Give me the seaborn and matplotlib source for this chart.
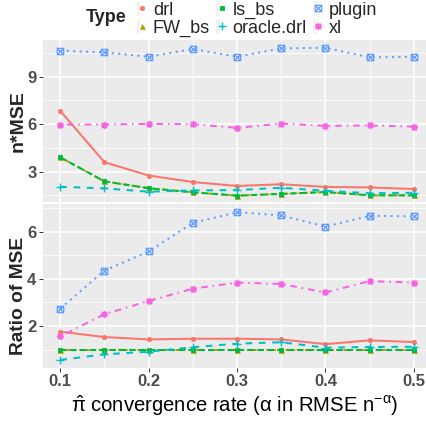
import numpy as np
import pandas as pd
import seaborn as sns
import matplotlib
matplotlib.use("Agg")
import matplotlib.pyplot as plt
from matplotlib.path import Path
from matplotlib.lines import Line2D
from matplotlib.patches import Rectangle
from matplotlib.legend_handler import HandlerTuple

# convergence rate alpha
rate = [0.1, 0.15, 0.2, 0.25, 0.3, 0.35, 0.4, 0.45, 0.5]
types = ["drl", "FW_bs", "ls_bs", "oracle.drl", "plugin", "xl"]

# n*MSE (top panel)
nmse_drl = [6.84, 3.60, 2.76, 2.35, 2.10, 2.21, 2.04, 2.01, 1.91]
nmse_fw_bs = [3.91, 2.39, 1.96, 1.70, 1.49, 1.60, 1.72, 1.51, 1.51]
nmse_ls_bs = [3.91, 2.39, 1.96, 1.70, 1.49, 1.60, 1.72, 1.51, 1.51]
nmse_oracle = [2.05, 1.95, 1.74, 1.82, 1.84, 1.99, 1.80, 1.64, 1.67]
nmse_plugin = [10.64, 10.54, 10.26, 10.75, 10.26, 10.79, 10.83, 10.22, 10.26]
nmse_xl = [5.98, 5.98, 6.02, 6.00, 5.77, 6.04, 5.90, 5.92, 5.85]

# ratio of MSE (bottom panel)
ratio_drl = [1.76, 1.53, 1.43, 1.46, 1.46, 1.43, 1.23, 1.39, 1.32]
ratio_fw_bs = [1.0, 1.0, 1.0, 1.0, 1.0, 1.0, 1.0, 1.0, 1.0]
ratio_ls_bs = [1.0, 1.0, 1.0, 1.0, 1.0, 1.0, 1.0, 1.0, 1.0]
ratio_oracle = [0.56, 0.80, 0.91, 1.10, 1.25, 1.31, 1.08, 1.11, 1.12]
ratio_plugin = [2.74, 4.35, 5.16, 6.37, 6.82, 6.69, 6.21, 6.67, 6.65]
ratio_xl = [1.56, 2.50, 3.06, 3.58, 3.84, 3.78, 3.42, 3.90, 3.84]

nmse = dict(zip(types, [nmse_drl, nmse_fw_bs, nmse_ls_bs, nmse_oracle, nmse_plugin, nmse_xl]))
ratio = dict(zip(types, [ratio_drl, ratio_fw_bs, ratio_ls_bs, ratio_oracle, ratio_plugin, ratio_xl]))

rows = []
for panel, vals in [("nmse", nmse), ("ratio", ratio)]:
    for t in types:
        for r, v in zip(rate, vals[t]):
            rows.append({"rate": r, "Type": t, "value": v, "panel": panel})
df = pd.DataFrame(rows)

colors = ["#F8766D", "#B79F00", "#00BA38", "#00BFC4", "#619CFF", "#F564E3"]
palette = dict(zip(types, colors))
dashes = {"drl": "", "FW_bs": (1.6, 1.6), "ls_bs": (3.3, 1.6),
          "oracle.drl": (3.3, 3.3), "plugin": (1, 2.2), "xl": (0.8, 2.4, 3.3, 2.4)}

# square with a cross (ggplot shape 7)
sqx = Path([(-1, -1), (1, -1), (1, 1), (-1, 1), (-1, -1), (-1, -1), (1, 1), (-1, 1), (1, -1)],
           [Path.MOVETO, Path.LINETO, Path.LINETO, Path.LINETO, Path.CLOSEPOLY,
            Path.MOVETO, Path.LINETO, Path.MOVETO, Path.LINETO])
marker_style = {
    "drl": dict(marker="o", ms=3.2, mew=0.5, fill=True),
    "FW_bs": dict(marker="^", ms=3.6, mew=0.5, fill=True),
    "ls_bs": dict(marker="s", ms=3.4, mew=0.6, fill=True),
    "oracle.drl": dict(marker="+", ms=6, mew=1.0, fill=False),
    "plugin": dict(marker=sqx, ms=4.6, mew=0.9, fill=False),
    "xl": dict(marker=(8, 2, 0), ms=5.2, mew=0.9, fill=False),
}

sns.set_theme(style="darkgrid")
plt.rcParams["font.family"] = ["Liberation Sans", "DejaVu Sans"]
plt.rcParams["mathtext.fontset"] = "custom"
plt.rcParams["mathtext.rm"] = "Liberation Sans"
plt.rcParams["mathtext.it"] = "Liberation Sans:italic"
plt.rcParams["mathtext.bf"] = "Liberation Sans:bold"

fig = plt.figure(figsize=(4.27, 4.23), dpi=100)
ax1 = fig.add_axes([0.1007, 0.5225, 0.8993, 0.383])
ax2 = fig.add_axes([0.1007, 0.1312, 0.8993, 0.3865])

for ax, panel in [(ax1, "nmse"), (ax2, "ratio")]:
    sns.lineplot(data=df[df["panel"] == panel], x="rate", y="value",
                 hue="Type", hue_order=types, palette=palette,
                 style="Type", style_order=types, dashes=dashes, markers=False,
                 errorbar=None, linewidth=1.45, legend=False, ax=ax)
    for line, t in zip(ax.get_lines(), types):
        st = marker_style[t]
        c = line.get_color()
        line.set_marker(st["marker"])
        line.set_markersize(st["ms"])
        line.set_markeredgewidth(st["mew"])
        line.set_markeredgecolor(c)
        line.set_markerfacecolor(c if st["fill"] else "none")

    ax.set_facecolor("#EBEBEB")
    for s in ax.spines.values():
        s.set_visible(False)
    ax.set_xlim(0.0804, 0.515)
    ax.set_xticks([0.1, 0.2, 0.3, 0.4, 0.5])
    ax.set_xticks([0.15, 0.25, 0.35, 0.45], minor=True)
    ax.grid(which="major", color="white", linewidth=1.1)
    ax.grid(which="minor", color="white", linewidth=0.55)
    ax.set_axisbelow(True)
    ax.tick_params(which="major", length=2.75, width=0.7, color="#333333",
                   labelsize=12, labelcolor="#4D4D4D", pad=2,
                   left=True, bottom=True)
    ax.tick_params(which="minor", length=0)
    ax.set_xlabel("")

ax1.set_ylim(1.09, 11.32)
ax1.set_yticks([3, 6, 9])
ax1.set_yticks([1.5, 4.5, 7.5, 10.5], minor=True)
ax1.tick_params(axis="x", which="major", length=0, labelbottom=False)
ax1.set_ylabel("n*MSE", fontsize=14, fontweight="bold", va="center")
ax1.yaxis.set_label_coords(-0.064, 0.5)

ax2.set_ylim(0.24, 7.17)
ax2.set_yticks([2, 4, 6])
ax2.set_yticks([1, 3, 5, 7], minor=True)
ax2.set_xticklabels(["0.1", "0.2", "0.3", "0.4", "0.5"])
ax2.set_ylabel("Ratio of MSE", fontsize=13.8, fontweight="bold", va="center")
ax2.yaxis.set_label_coords(-0.064, 0.437)
ax2.set_xlabel(r"$\hat{\mathrm{\pi}}$ convergence rate ($\mathrm{\alpha}$ in RMSE n$^{-\mathrm{\alpha}}$)",
               fontsize=14.6, labelpad=3, color="black")

for ax in (ax1, ax2):
    for lab in ax.get_xticklabels() + ax.get_yticklabels():
        lab.set_fontweight("bold")

# legend on top, ggplot-like
handles = []
for t in types:
    st = marker_style[t]
    c = palette[t]
    key = Rectangle((0, 0), 1, 1, facecolor="#F2F2F2", edgecolor="none")
    pt = Line2D([], [], linestyle="none", marker=st["marker"], markersize=st["ms"],
                markeredgewidth=st["mew"], markeredgecolor=c,
                markerfacecolor=c if st["fill"] else "none")
    handles.append((key, pt))
fig.legend(handles, types, ncol=3, loc="upper left",
           bbox_to_anchor=(136.5 / 427, 1 - 1.5 / 423), frameon=False,
           handler_map={tuple: HandlerTuple(ndivide=None, pad=0)},
           handlelength=0.4, handleheight=0.9, handletextpad=0.5,
           columnspacing=0.35, labelspacing=0.0, fontsize=13,
           borderpad=0, borderaxespad=0)
fig.text(86 / 427, 1 - 18 / 423, "Type", fontsize=13, fontweight="bold",
         ha="left", va="center")

fig.savefig("out.png", dpi=100)
